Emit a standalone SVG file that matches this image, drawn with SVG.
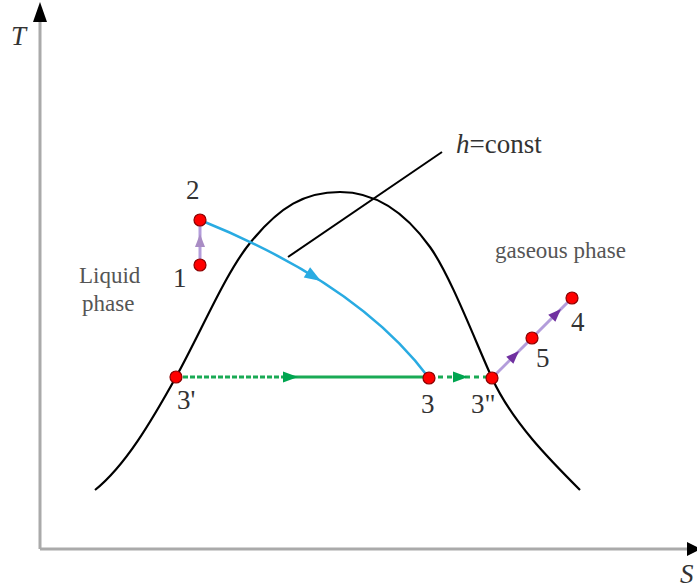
<svg xmlns="http://www.w3.org/2000/svg" width="697" height="588" viewBox="0 0 697 588">
<style>
text{font-family:"Liberation Serif","DejaVu Serif",serif;fill:#333}
.lbl{font-size:27px}
.ph{font-size:23px;fill:#555}
.it{font-style:italic}
.axis{stroke:#aaa;stroke-width:3;fill:none}
.dome{stroke:#000;stroke-width:2.2;fill:none}
.pt{fill:#f00;stroke:#8b0000;stroke-width:1.2}
.blue{stroke:#29abe2;stroke-width:2.5;fill:none}
.grn{stroke:#1aaa55;stroke-width:3;fill:none}
.lil{stroke:#b39ddb;stroke-width:3;fill:none}
</style>
<defs>
<path id="ah" d="M0,0 L-15,-5.5 L-15,5.5 Z"/>
<path id="ahs" d="M0,0 L-13,-5 L-13,5 Z"/>
</defs>
<g id="axes">
<line class="axis" x1="40" y1="549" x2="40" y2="20"/>
<line class="axis" x1="40" y1="549" x2="688" y2="549"/>
<path d="M40,2 L47,22 L33,22 Z" fill="#000"/>
<path d="M701,549 L687,542 L687,556 Z" fill="#000"/>
<text class="lbl it" x="11" y="45">T</text>
<text class="lbl it" x="680" y="583">S</text>
</g>
<g id="dome">
<path class="dome" d="M95,490 C125,466 151,422 176,377 C201,332 225,274 250,243 C280,206 305,192 340,192 C375,192 405,212 430,247 C450,275 474,338 492,378 C512,422 550,460 580,490"/>
</g>
<g id="connectors">
<line id="hline" x1="288" y1="257" x2="442" y2="152" stroke="#000" stroke-width="2"/>
<path id="c23" class="blue" d="M200,220 Q359,284 429,378"/>
<use href="#ah" fill="#29abe2" transform="translate(321,281) rotate(31.6) scale(1.1)"/>
<line id="c12" class="lil" x1="200" y1="265" x2="200" y2="220"/>
<use href="#ahs" fill="#a98cc4" transform="translate(200,234) rotate(-90)"/>
<line class="grn" x1="176" y1="377" x2="285" y2="377" stroke-dasharray="5 2"/>
<line class="grn" x1="290" y1="377" x2="429" y2="377" stroke="#22b060"/>
<use href="#ah" fill="#00a550" transform="translate(298,377)"/>
<line class="grn" x1="429" y1="377" x2="492" y2="377" stroke-dasharray="5 4"/>
<use href="#ah" fill="#00a550" transform="translate(468,377)"/>
<line id="c35" class="lil" x1="492" y1="378" x2="532" y2="338"/>
<line id="c54" class="lil" x1="532" y1="338" x2="572" y2="298"/>
<use href="#ahs" fill="#7030a0" transform="translate(519,351) rotate(-45)"/>
<use href="#ahs" fill="#7030a0" transform="translate(561,309) rotate(-45)"/>
</g>
<g id="p2"><circle class="pt" cx="200" cy="220" r="6"/><text class="lbl" x="186" y="199">2</text></g>
<g id="p1"><circle class="pt" cx="200" cy="265" r="6"/><text class="lbl" x="173" y="287">1</text></g>
<g id="p3p"><circle class="pt" cx="176" cy="377" r="6"/><text class="lbl" x="177" y="409">3'</text></g>
<g id="p3"><circle class="pt" cx="429" cy="378" r="6"/><text class="lbl" x="421" y="413">3</text></g>
<g id="p3pp"><circle class="pt" cx="492" cy="378" r="6"/><text class="lbl" x="471" y="413">3"</text></g>
<g id="p5"><circle class="pt" cx="532" cy="338" r="6"/><text class="lbl" x="536" y="367">5</text></g>
<g id="p4"><circle class="pt" cx="572" cy="298" r="6"/><text class="lbl" x="571" y="331">4</text></g>
<g id="labels">
<text class="lbl" x="456" y="153"><tspan class="it">h</tspan>=const</text>
<text class="ph" x="79" y="283">Liquid</text>
<text class="ph" x="82" y="311">phase</text>
<text class="ph" x="495" y="258">gaseous phase</text>
</g>
</svg>
